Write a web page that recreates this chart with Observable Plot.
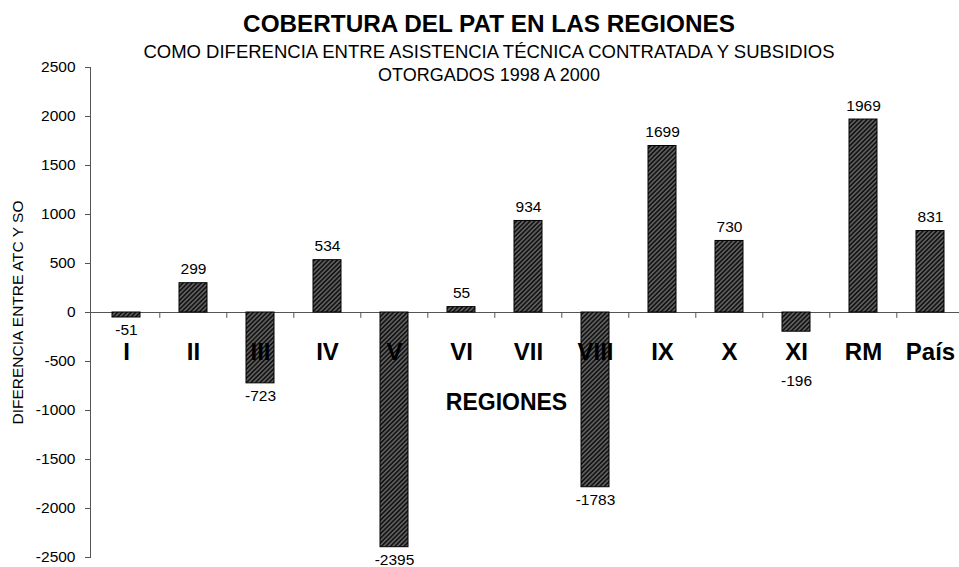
<!DOCTYPE html>
<html>
<head>
<meta charset="utf-8">
<script src="https://cdn.jsdelivr.net/npm/d3@7"></script>
<script src="https://cdn.jsdelivr.net/npm/@observablehq/plot@0.6"></script>
<style>
  html, body { margin: 0; padding: 0; background: #fff; }
  #wrap { position: relative; width: 959px; height: 567px; overflow: hidden; font-family: "Liberation Sans", Arial, sans-serif; }
  .t { position: absolute; left: 489px; transform: translateX(-50%); white-space: nowrap; line-height: 1; color: #000; }
</style>
</head>
<body>
<svg width="0" height="0" style="position:absolute">
  <defs>
    <pattern id="hatch" width="3.2" height="3.2" patternUnits="userSpaceOnUse" patternTransform="rotate(45)">
      <rect width="3.2" height="3.2" fill="#141414"></rect>
      <line x1="1.6" y1="0" x2="1.6" y2="3.2" stroke="#a0a0a0" stroke-width="0.85"></line>
    </pattern>
  </defs>
</svg>
<div id="wrap">
  <div id="chart"></div>
  <div class="t" style="top:12px;font-size:24.3px;font-weight:bold;">COBERTURA DEL PAT EN LAS REGIONES</div>
  <div class="t" style="top:43px;font-size:18.5px;">COMO DIFERENCIA ENTRE ASISTENCIA TÉCNICA CONTRATADA Y SUBSIDIOS</div>
  <div class="t" style="top:66px;font-size:18px;">OTORGADOS 1998 A 2000</div>
</div>
<script>
const regions = ["I", "II", "III", "IV", "V", "VI", "VII", "VIII", "IX", "X", "XI", "RM", "País"];
const values = [-51, 299, -723, 534, -2395, 55, 934, -1783, 1699, 730, -196, 1969, 831];
const yTicks = [-2500, -2000, -1500, -1000, -500, 0, 500, 1000, 1500, 2000, 2500];
const yTitle = "DIFERENCIA ENTRE ATC Y SO";
const xTitle = "REGIONES";

const data = regions.map((r, i) => ({region: r, value: values[i]}));
const font = "'Liberation Sans', Arial, sans-serif";
const x0 = 90, x1 = 966;
const step = (x1 - x0) / regions.length;

const plot = Plot.plot({
  width: 959,
  height: 567,
  marginLeft: 90,
  marginRight: 0,
  marginTop: 67,
  marginBottom: 10,
  style: {fontFamily: font, background: "white", color: "#000"},
  x: {type: "band", domain: regions, range: [x0, x1], paddingInner: 0.585, paddingOuter: 0.2925, axis: null},
  y: {domain: [-2500, 2500], axis: null},
  marks: [
    Plot.axisY({ticks: yTicks, tickSize: 5, tickPadding: 10, fontSize: 15.5, label: null, stroke: "#555", tickFormat: d => String(d)}),
    Plot.frame({anchor: "left", stroke: "#555"}),
    Plot.ruleY([0], {stroke: "#555"}),
    Plot.ruleX(regions.slice(1), {x: d => d, y1: 0, y2: -60, dx: -step / 2, stroke: "#555"}),
    Plot.barY(data, {x: "region", y: "value", fill: "url(#hatch)", stroke: "#000", strokeWidth: 1}),
    Plot.text(regions, {x: d => d, y: () => 0, dy: 40, fontSize: 24, fontWeight: "bold", fill: "#000"}),
    Plot.text(data.filter(d => d.value >= 0), {x: "region", y: "value", text: d => String(d.value), dy: -14, fontSize: 15.5, fill: "#000"}),
    Plot.text(data.filter(d => d.value < 0 && d.region !== "XI"), {x: "region", y: "value", text: d => String(d.value), dy: 13, fontSize: 15.5, fill: "#000"}),
    Plot.text(data.filter(d => d.region === "XI"), {x: "region", y: "value", text: d => String(d.value), dy: 49, fontSize: 15.5, fill: "#000"}),
    Plot.text([yTitle], {frameAnchor: "left", textAnchor: "middle", rotate: -90, dx: -72, fontSize: 15.5, fill: "#000"}),
    Plot.text([xTitle], {frameAnchor: "middle", dx: -18.5, dy: 90, fontSize: 23, fontWeight: "bold", fill: "#000"})
  ]
});
document.getElementById("chart").appendChild(plot);
</script>
</body>
</html>
